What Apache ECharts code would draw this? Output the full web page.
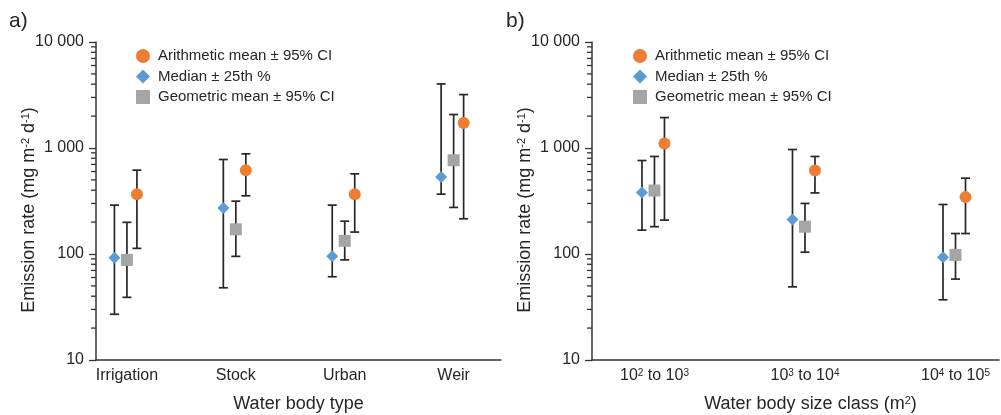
<!DOCTYPE html>
<html><head><meta charset="utf-8">
<script src="https://cdn.jsdelivr.net/npm/echarts@6/dist/echarts.min.js"></script>
<style>html,body{margin:0;padding:0;background:#fff}#c{width:1001px;height:415px}</style>
</head><body><div id="c"></div>
<script>
// ---------- DATA ----------
const categoriesA = ['Irrigation', 'Stock', 'Urban', 'Weir'];
const categoriesB = ['10² to 10³', '10³ to 10⁴', '10⁴ to 10⁵'];

const arithA   = [367, 618, 367, 1725];
const arithLoA = [113, 354, 161, 215];
const arithHiA = [618, 880, 570, 3190];
const medianA   = [92, 272, 95, 534];
const medianLoA = [27, 48, 61, 367];
const medianHiA = [289, 779, 289, 4020];
const geoA   = [88, 171, 133, 767];
const geoLoA = [39, 95, 88, 275];
const geoHiA = [199, 315, 204, 2070];

const arithB   = [1102, 614, 344];
const arithLoB = [209, 377, 156];
const arithHiB = [1937, 832, 519];
const medianB   = [380, 212, 93];
const medianLoB = [168, 49, 37];
const medianHiB = [762, 968, 293];
const geoB   = [397, 181, 98];
const geoLoB = [181, 104, 58];
const geoHiB = [832, 300, 156];

const minorTickValues = [20, 30, 40, 50, 60, 70, 80, 90, 200, 300, 400, 500, 600, 700, 800, 900, 2000, 3000, 4000, 5000, 6000, 7000, 8000, 9000];

const seriesNames = ['Arithmetic mean ± 95% CI', 'Median ± 25th %', 'Geometric mean ± 95% CI'];

// ---------- STYLE ----------
const FONT = "'Liberation Sans', Arial, sans-serif";
const INK = '#262626';
const AXIS = '#333333';
const COLORS = ['#ED7D31', '#5B9BD5', '#A5A5A5'];
const SYMBOLS = ['circle', 'diamond', 'rect'];
const SIZES = [12, 12, 12];
const OFFSETS = [10, -12.5, 0];

const supRe = /[⁰¹²³⁴⁵⁶⁷⁸⁹]/g;
const supMap = {'⁰':'0','¹':'1','²':'2','³':'3','⁴':'4','⁵':'5','⁶':'6','⁷':'7','⁸':'8','⁹':'9'};
function toRich(s) { return s.replace(supRe, c => '{s|' + supMap[c] + '}'); }

function errSeries(idx, xs, lo, hi, off) {
  return {
    type: 'custom', xAxisIndex: idx, yAxisIndex: idx, z: 2, silent: true, clip: false,
    data: xs.map((_, i) => [i, lo[i], hi[i]]),
    renderItem: (params, api) => {
      const x = api.value(0);
      const pLo = api.coord([x, api.value(1)]);
      const pHi = api.coord([x, api.value(2)]);
      const cx = pLo[0] + off;
      const st = { stroke: INK, lineWidth: 1.7 };
      return { type: 'group', children: [
        { type: 'line', shape: { x1: cx, y1: pHi[1], x2: cx, y2: pLo[1] }, style: st },
        { type: 'line', shape: { x1: cx - 4.5, y1: pHi[1], x2: cx + 4.5, y2: pHi[1] }, style: st },
        { type: 'line', shape: { x1: cx - 4.5, y1: pLo[1], x2: cx + 4.5, y2: pLo[1] }, style: st }
      ]};
    }
  };
}

function minorTicks(idx, xMin) {
  return {
    type: 'custom', xAxisIndex: idx, yAxisIndex: idx, z: 1, silent: true, clip: false,
    data: minorTickValues.map(v => [xMin, v]),
    renderItem: (params, api) => {
      const p = api.coord([api.value(0), api.value(1)]);
      return { type: 'line', shape: { x1: p[0] - 5, y1: p[1], x2: p[0], y2: p[1] }, style: { stroke: AXIS, lineWidth: 1.3 } };
    }
  };
}

function panelSeries(idx, xMin, sets) {
  const out = [minorTicks(idx, xMin)];
  sets.forEach((s, k) => {
    out.push(errSeries(idx, s[0], s[1], s[2], OFFSETS[k]));
  });
  sets.forEach((s, k) => {
    out.push({
      type: 'scatter', name: seriesNames[k], xAxisIndex: idx, yAxisIndex: idx, z: 5,
      symbol: SYMBOLS[k], symbolSize: SIZES[k], symbolOffset: [OFFSETS[k], 0],
      itemStyle: { color: COLORS[k], opacity: 1 },
      data: s[0].map((v, i) => [i, v])
    });
  });
  return out;
}

const xRangeA = [-0.284, 3.435];
const xRangeB = [-0.415, 2.289];

function yAxis(idx) {
  return {
    type: 'log', logBase: 10, min: 10, max: 10000, gridIndex: idx,
    name: 'Emission rate (mg m{s|-2} d{s|-1})', nameLocation: 'middle', nameGap: 58, nameRotate: 90,
    nameMoveOverlap: false,
    nameTextStyle: { fontFamily: FONT, fontSize: 18, color: INK, padding: [0, 18, 0, 0],
      rich: { s: { fontFamily: FONT, fontSize: 11, color: INK, verticalAlign: 'top', lineHeight: 12 } } },
    axisLine: { show: true, onZero: false, lineStyle: { color: AXIS, width: 1.5 } },
    axisTick: { show: true, length: 7, inside: false, lineStyle: { color: AXIS, width: 1.3 } },
    splitLine: { show: false },
    axisLabel: { fontFamily: FONT, fontSize: 16, color: INK, margin: 12,
      formatter: v => v >= 1000 ? String(v).replace(/\B(?=(\d{3})+$)/g, ' ') : String(v) }
  };
}

function xAxis(idx, range, cats, name, extra) {
  return Object.assign({
    type: 'value', gridIndex: idx, min: range[0], max: range[1],
    name: name, nameLocation: 'middle', nameGap: 35, nameMoveOverlap: false,
    nameTextStyle: { fontFamily: FONT, fontSize: 18, color: INK,
      rich: { s: { fontFamily: FONT, fontSize: 11, color: INK, verticalAlign: 'top', lineHeight: 12 } } },
    axisLine: { show: true, onZero: false, lineStyle: { color: AXIS, width: 1.5 } },
    axisTick: { show: false },
    splitLine: { show: false },
    axisLabel: { fontFamily: FONT, fontSize: 16, color: INK, margin: 8,
      customValues: cats.map((_, i) => i),
      formatter: v => toRich(cats[Math.round(v)] || ''),
      rich: { s: { fontFamily: FONT, fontSize: 10, color: INK, verticalAlign: 'top', lineHeight: 11 } } }
  }, extra || {});
}

function legend(left) {
  return {
    orient: 'vertical', left: left, top: 47, padding: 0, itemWidth: 14, itemHeight: 14, itemGap: 2.5,
    textStyle: { fontFamily: FONT, fontSize: 15, color: INK, lineHeight: 18, padding: [0, 0, 0, 3] },
    selectedMode: false,
    data: seriesNames.map((n, k) => ({ name: n, icon: SYMBOLS[k] }))
  };
}

const chart = echarts.init(document.getElementById('c'), null, { renderer: 'canvas' });
chart.setOption({
  animation: false,
  backgroundColor: '#ffffff',
  textStyle: { fontFamily: FONT },
  grid: [
    { left: 96, top: 42, width: 405, height: 318, containLabel: false, outerBoundsMode: 'none' },
    { left: 592, top: 42, width: 407, height: 318, containLabel: false, outerBoundsMode: 'none' }
  ],
  legend: [legend(136), legend(633)],
  xAxis: [
    xAxis(0, xRangeA, categoriesA, 'Water body type'),
    xAxis(1, xRangeB, categoriesB, 'Water body size class (m{s|2})',
      { nameTextStyle: { fontFamily: FONT, fontSize: 18, color: INK, padding: [0, 0, 0, 30],
        rich: { s: { fontFamily: FONT, fontSize: 11, color: INK, verticalAlign: 'top', lineHeight: 12 } } } })
  ],
  yAxis: [yAxis(0), yAxis(1)],
  graphic: [
    { type: 'text', left: 9, top: 11, style: { text: 'a)', fontFamily: FONT, fontSize: 21, fill: INK } },
    { type: 'text', left: 506, top: 11, style: { text: 'b)', fontFamily: FONT, fontSize: 21, fill: INK } }
  ],
  series: [].concat(
    panelSeries(0, xRangeA[0], [[arithA, arithLoA, arithHiA], [medianA, medianLoA, medianHiA], [geoA, geoLoA, geoHiA]]),
    panelSeries(1, xRangeB[0], [[arithB, arithLoB, arithHiB], [medianB, medianLoB, medianHiB], [geoB, geoLoB, geoHiB]])
  )
});
</script>
</body></html>
